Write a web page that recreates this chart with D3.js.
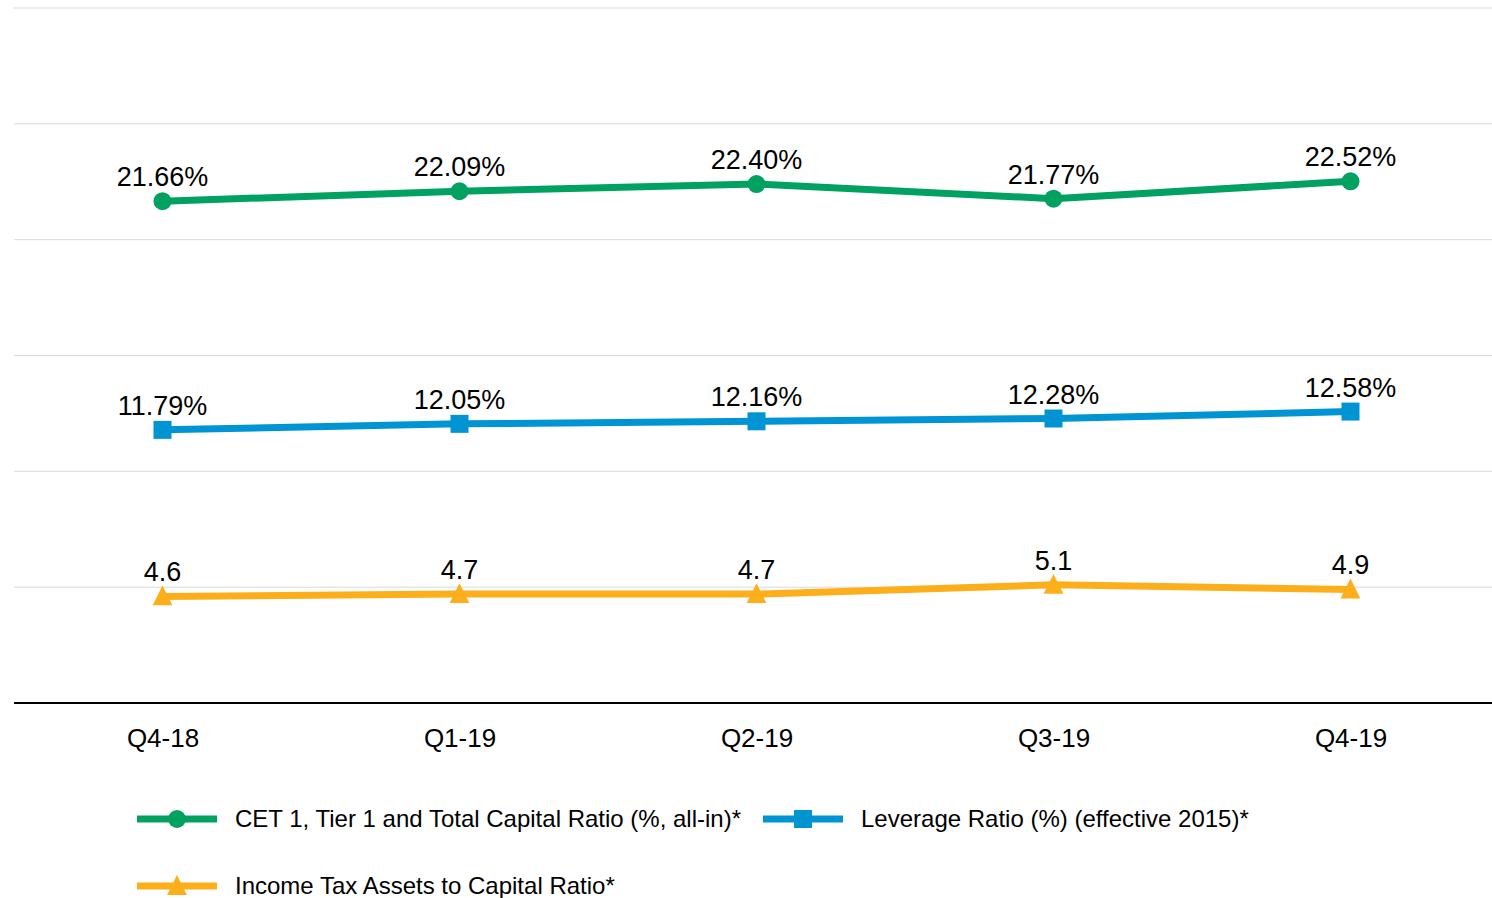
<!DOCTYPE html>
<html>
<head>
<meta charset="utf-8">
<script src="https://cdn.jsdelivr.net/npm/d3@7"></script>
<style>
  body { margin: 0; background: #fff; }
  svg { display: block; font-family: "Liberation Sans", Arial, sans-serif; }
</style>
</head>
<body>
<div id="chart"></div>
<script>
// data
const quarters = ["Q4-18", "Q1-19", "Q2-19", "Q3-19", "Q4-19"];
const cetRatio = [21.66, 22.09, 22.40, 21.77, 22.52];
const leverageRatio = [11.79, 12.05, 12.16, 12.28, 12.58];
const taxAssetsRatio = [4.6, 4.7, 4.7, 5.1, 4.9];
const gridTicks = [5, 10, 15, 20, 25, 30];

const series = [
  { name: "CET 1, Tier 1 and Total Capital Ratio (%, all-in)*", values: cetRatio, color: "#00A161", marker: "circle", fmt: d => d.toFixed(2) + "%" },
  { name: "Leverage Ratio (%) (effective 2015)*", values: leverageRatio, color: "#0094D3", marker: "square", fmt: d => d.toFixed(2) + "%" },
  { name: "Income Tax Assets to Capital Ratio*", values: taxAssetsRatio, color: "#FCAF1B", marker: "triangle", fmt: d => d.toFixed(1) }
];

const width = 1492, height = 898;
const left = 14, right = 1492, plotRight = 1499;

const svg = d3.select("#chart").append("svg")
  .attr("width", width)
  .attr("height", height);

const x = d3.scalePoint().domain(quarters).range([left, plotRight]).padding(0.5);
const y = d3.scaleLinear().domain([0, 30]).range([703, 8]);

// gridlines
svg.append("g").selectAll("line").data(gridTicks).enter()
  .append("line")
  .attr("x1", left).attr("x2", right)
  .attr("y1", d => y(d)).attr("y2", d => y(d))
  .attr("stroke", "#d9d9d9").attr("stroke-width", 1);

// x axis
const xAxis = svg.append("g")
  .attr("transform", `translate(0,${y(0)})`)
  .call(d3.axisBottom(x).tickSize(0).tickPadding(26));
xAxis.select(".domain").attr("d", `M${left},0H${right}`).attr("stroke", "#000").attr("stroke-width", 2);
xAxis.selectAll("text").attr("font-size", 26).attr("fill", "#000")
  .attr("font-family", "'Liberation Sans', Arial, sans-serif");

function drawMarker(g, type, color, size) {
  if (type === "circle") {
    g.append("circle").attr("r", size * 0.5).attr("fill", color);
  } else if (type === "square") {
    g.append("rect").attr("x", -size / 2).attr("y", -size / 2)
      .attr("width", size).attr("height", size).attr("fill", color);
  } else {
    const s = size * 1.1;
    g.append("path")
      .attr("d", `M0,${-s * 0.55}L${s / 2},${s * 0.45}L${-s / 2},${s * 0.45}Z`)
      .attr("fill", color);
  }
}

const line = d3.line().x((d, i) => x(quarters[i])).y(d => y(d));

series.forEach(s => {
  const g = svg.append("g");
  g.append("path")
    .datum(s.values)
    .attr("d", line)
    .attr("fill", "none")
    .attr("stroke", s.color)
    .attr("stroke-width", 7)
    .attr("stroke-linejoin", "round");

  s.values.forEach((v, i) => {
    const m = g.append("g").attr("transform", `translate(${x(quarters[i])},${y(v)})`);
    drawMarker(m, s.marker, s.color, 18);
    g.append("text")
      .attr("x", x(quarters[i]))
      .attr("y", y(v) - 15)
      .attr("text-anchor", "middle")
      .attr("font-size", 27)
      .attr("fill", "#000")
      .text(s.fmt(v));
  });
});

// legend
const legendPos = [
  { x: 137, y: 819 },
  { x: 763, y: 819 },
  { x: 137, y: 886 }
];
series.forEach((s, i) => {
  const p = legendPos[i];
  const g = svg.append("g").attr("transform", `translate(${p.x},${p.y})`);
  g.append("line").attr("x1", 0).attr("x2", 80)
    .attr("stroke", s.color).attr("stroke-width", 7);
  const m = g.append("g").attr("transform", "translate(40,0)");
  drawMarker(m, s.marker, s.color, 18);
  g.append("text")
    .attr("x", 98)
    .attr("y", 0)
    .attr("dy", "0.35em")
    .attr("font-size", 24)
    .attr("fill", "#000")
    .text(s.name);
});
</script>
</body>
</html>
